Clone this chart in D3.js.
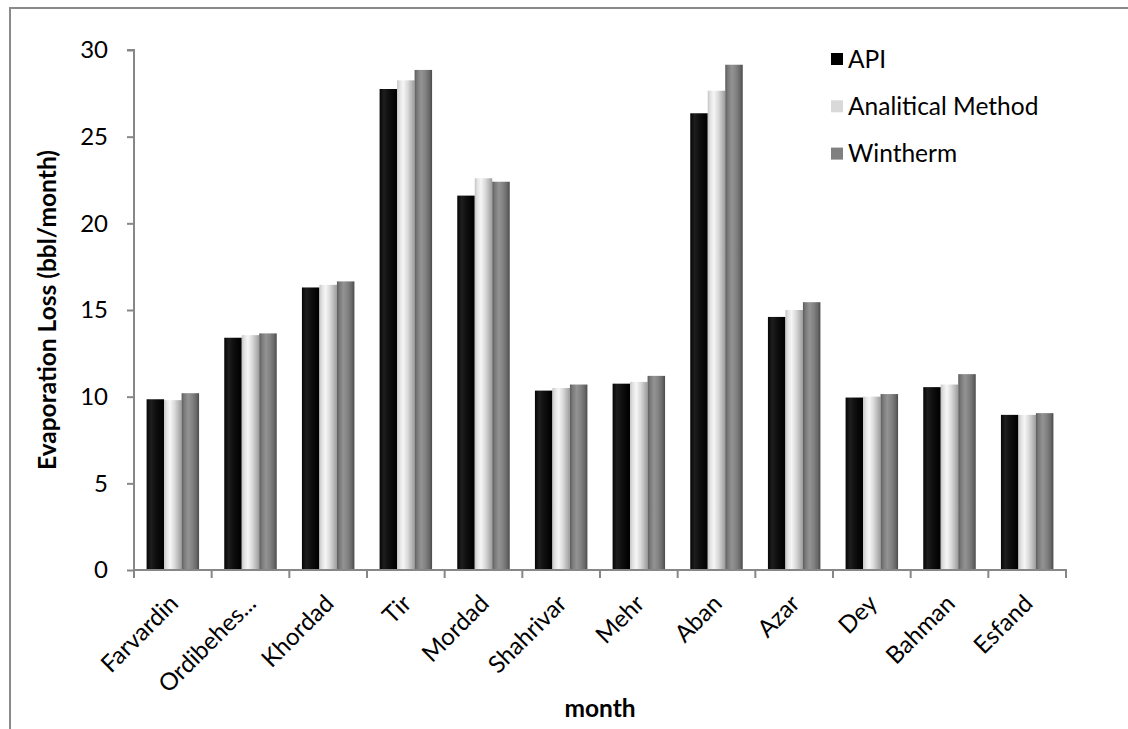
<!DOCTYPE html>
<html>
<head>
<meta charset="utf-8">
<script src="https://cdn.jsdelivr.net/npm/d3@7"></script>
<style>
  html, body { margin: 0; padding: 0; background: #fff; }
  svg { display: block; font-family: Lato, "Liberation Sans", sans-serif; }
</style>
</head>
<body>
<svg id="chart" width="1128" height="729"></svg>
<script>
// Monthly evaporation loss, three estimation methods
const months = ["Farvardin", "Ordibeheshti", "Khordad", "Tir", "Mordad", "Shahrivar",
                "Mehr", "Aban", "Azar", "Dey", "Bahman", "Esfand"];
const monthLabels = ["Farvardin", "Ordibehes...", "Khordad", "Tir", "Mordad", "Shahrivar",
                     "Mehr", "Aban", "Azar", "Dey", "Bahman", "Esfand"];
const seriesNames = ["API", "Analitical Method", "Wintherm"];
const apiValues        = [9.85, 13.4, 16.3, 27.75, 21.6, 10.35, 10.75, 26.35, 14.6, 9.95, 10.55, 8.95];
const analiticalValues = [9.8, 13.55, 16.45, 28.25, 22.6, 10.5, 10.85, 27.65, 15.0, 10.0, 10.7, 8.95];
const winthermValues   = [10.2, 13.65, 16.65, 28.85, 22.4, 10.7, 11.2, 29.15, 15.45, 10.15, 11.3, 9.05];
const yTicks = [0, 5, 10, 15, 20, 25, 30];

const seriesValues = [apiValues, analiticalValues, winthermValues];
const swatchColors = ["#000000", "#d9d9d9", "#808080"];
const gradStops = [
  [[0, "#050505"], [0.25, "#1e1e1e"], [0.5, "#101010"], [0.8, "#050505"], [1, "#000000"]],
  [[0, "#c4c4c4"], [0.15, "#e2e2e2"], [0.35, "#f6f6f6"], [0.6, "#dadada"], [0.85, "#b4b4b4"], [1, "#9c9c9c"]],
  [[0, "#5c5c5c"], [0.15, "#7a7a7a"], [0.38, "#939393"], [0.62, "#828282"], [0.85, "#686868"], [1, "#4a4a4a"]]
];

const svg = d3.select("#chart");
const axisColor = "#878787";
const margin = { left: 134, right: 1066, top: 50, bottom: 570 };

// Outer chart frame (extends past the right and bottom edges)
svg.append("rect")
  .attr("x", 10).attr("y", 8)
  .attr("width", 1200).attr("height", 800)
  .attr("fill", "none").attr("stroke", "#8a8a8a").attr("stroke-width", 2);

// Gradients for the shaded bars
const defs = svg.append("defs");
gradStops.forEach((stops, i) => {
  const g = defs.append("linearGradient")
    .attr("id", "grad" + i)
    .attr("x1", "0%").attr("x2", "100%").attr("y1", "0%").attr("y2", "0%");
  stops.forEach(s => g.append("stop").attr("offset", s[0]).attr("stop-color", s[1]));
});

const x0 = d3.scaleBand().domain(months).range([margin.left, margin.right]).padding(0);
const x1 = d3.scaleBand().domain(seriesNames).range([0, x0.bandwidth()])
  .paddingInner(0).paddingOuter(0.72);
const y = d3.scaleLinear().domain([0, 30]).range([margin.bottom, margin.top]);

// Bars
const groups = svg.append("g").selectAll("g")
  .data(months)
  .join("g")
  .attr("transform", d => `translate(${x0(d)},0)`);

groups.selectAll("rect")
  .data((m, mi) => seriesNames.map((s, si) => ({ s, si, v: seriesValues[si][mi] })))
  .join("rect")
  .attr("x", d => x1(d.s))
  .attr("y", d => y(d.v))
  .attr("width", x1.bandwidth())
  .attr("height", d => y(0) - y(d.v))
  .attr("fill", d => `url(#grad${d.si})`);

// Y axis
const yAxis = svg.append("g")
  .attr("transform", `translate(${margin.left},0)`)
  .call(d3.axisLeft(y).tickValues(yTicks).tickSize(7).tickPadding(19).tickFormat(d3.format("d")))
  .attr("font-family", null)
  .attr("font-size", null);
yAxis.select(".domain").attr("stroke", axisColor).attr("stroke-width", 2).attr("d", `M-7,${margin.top}H0V${margin.bottom}`);
yAxis.selectAll(".tick line").attr("stroke", axisColor).attr("stroke-width", 2);
yAxis.selectAll(".tick text").attr("fill", "#000").style("font-size", "24px");

// X axis: ticks at category boundaries
const xAxisG = svg.append("g").attr("transform", `translate(0,${margin.bottom})`);
xAxisG.append("line")
  .attr("x1", margin.left - 1).attr("x2", margin.right + 1)
  .attr("stroke", axisColor).attr("stroke-width", 2);
const boundaries = months.map(m => x0(m)).concat([margin.right]);
xAxisG.selectAll("line.tk")
  .data(boundaries)
  .join("line")
  .attr("class", "tk")
  .attr("x1", d => d).attr("x2", d => d)
  .attr("y1", 0).attr("y2", 8)
  .attr("stroke", axisColor).attr("stroke-width", 2);

xAxisG.selectAll("text")
  .data(months)
  .join("text")
  .attr("transform", d => `translate(${x0(d) + x0.bandwidth() / 2 + 7},${35}) rotate(-45)`)
  .attr("text-anchor", "end")
  .style("font-size", "24px")
  .attr("fill", "#000")
  .text((d, i) => monthLabels[i]);

// Axis titles
svg.append("text")
  .attr("transform", `translate(56,${(margin.top + margin.bottom) / 2}) rotate(-90)`)
  .attr("text-anchor", "middle")
  .style("font-size", "24.5px").style("font-weight", "bold")
  .text("Evaporation Loss (bbl/month)");

svg.append("text")
  .attr("x", (margin.left + margin.right) / 2).attr("y", 717)
  .attr("text-anchor", "middle")
  .style("font-size", "24.5px").style("font-weight", "bold")
  .text("month");

// Legend
const legend = svg.append("g").attr("transform", "translate(831,53)");
const items = legend.selectAll("g")
  .data(seriesNames)
  .join("g")
  .attr("transform", (d, i) => `translate(0,${i * 47.3})`);
items.append("rect").attr("width", 12).attr("height", 12)
  .attr("fill", (d, i) => swatchColors[i]);
items.append("text")
  .attr("x", 17).attr("y", 6).attr("dy", "0.36em")
  .style("font-size", "24.5px")
  .text(d => d);
</script>
</body>
</html>
